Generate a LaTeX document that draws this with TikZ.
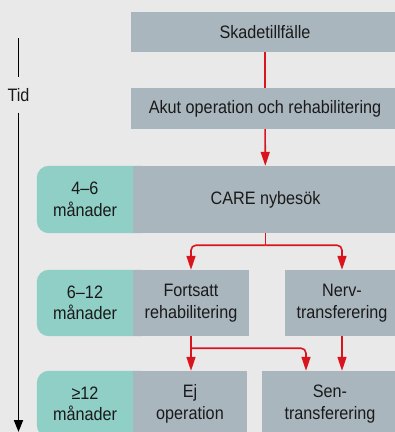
\documentclass[tikz,border=0pt]{standalone}
\usepackage{fontspec}
\setmainfont[FakeStretch=0.9]{Liberation Sans}
\usetikzlibrary{positioning,arrows.meta,backgrounds}
\definecolor{BgGray}{HTML}{E9E9E9}
\definecolor{BoxGray}{HTML}{AAB6BE}
\definecolor{TealTime}{HTML}{8FCFC6}
\definecolor{FlowRed}{HTML}{D9141C}
\definecolor{TextDark}{HTML}{1A1A1A}
\tikzset{
    flowbox/.style={fill=BoxGray, text=TextDark, align=center, inner sep=0pt,
        font=\fontsize{18}{21.5}\selectfont},
    timebox/.style={text=TextDark, align=center, inner sep=0pt,
        minimum width=96pt, font=\fontsize{18}{21.5}\selectfont},
    flowline/.style={draw=FlowRed, line width=1.6pt, rounded corners=5pt},
    flowarrow/.style={flowline, -{Triangle[width=9pt,length=14pt]}},
    timeline/.style={draw=black, line width=1.8pt}
}
\begin{document}
\begin{tikzpicture}[x=1pt, y=-1pt]
    % Ram
    \useasboundingbox (0,0) rectangle (395,432);
    \clip (0,0) rectangle (395,432);

    % Flödesrutor
    \node[flowbox, minimum width=268pt, minimum height=40pt] (skade) at (265,32) {Skadetillfälle};
    \node[flowbox, minimum width=268pt, minimum height=41pt] (akut) at (265,108.5) {Akut operation och rehabilitering};
    \node[flowbox, minimum width=265pt, minimum height=67pt] (care) at (265.5,199.5) {CARE nybesök};
    \node[flowbox, minimum width=116pt, minimum height=66pt] (fort) at (191,303) {Fortsatt\\rehabilitering};
    \node[flowbox, minimum width=114pt, minimum height=66pt] (nerv) at (342,303) {Nerv-\\transferering};
    \node[flowbox, minimum width=114pt, minimum height=66pt] (ej) at (190,404) {Ej\\operation};
    \node[flowbox, minimum width=136pt, minimum height=66pt] (sen) at (330,404) {Sen-\\transferering};

    % Tidsrutor
    \node[timebox, minimum height=67pt] (t46) at (85,199.5) {4–6\\månader};
    \node[timebox, minimum height=66pt] (t612) at (85,303) {6–12\\månader};
    \node[timebox, minimum height=66pt] (t12) at (85,404) {≥12\\månader};
    \begin{scope}[on background layer]
        \fill[BgGray] (0,0) rectangle (395,432);
        \foreach \t in {t46,t612,t12}
            \fill[TealTime, rounded corners=12pt] (\t.north west) rectangle ([xshift=20pt]\t.south east);
    \end{scope}

    % Pilar
    \draw[flowline] (skade) -- (akut);
    \draw[flowarrow] (akut) -- (care);
    \coordinate (split1) at ([yshift=-12pt]care.south);
    \draw[flowline] (care.south) -- (split1);
    \draw[flowarrow] (split1) -| (fort.north);
    \draw[flowarrow] (split1) -| (nerv.north);
    \coordinate (split2) at ([yshift=-12pt]fort.south);
    \draw[flowarrow] (fort.south) -- (fort.south |- ej.north);
    \draw[flowarrow] (split2) -| ([xshift=-24pt]sen.north);
    \draw[flowarrow] (nerv.south) -- (nerv.south |- sen.north);

    % Tidsaxel
    \coordinate (axtop) at (18.5,38);
    \node[text=TextDark, inner sep=0pt, minimum height=35pt, font=\fontsize{18}{21.5}\selectfont] (tid) at (18.5,95) {Tid};
    \coordinate (axbot) at (18.5,432);
    \draw[timeline] (axtop) -- (tid.north);
    \draw[timeline, -{Triangle[width=9pt,length=12pt]}] (tid.south) -- (axbot);
\end{tikzpicture}
\end{document}
